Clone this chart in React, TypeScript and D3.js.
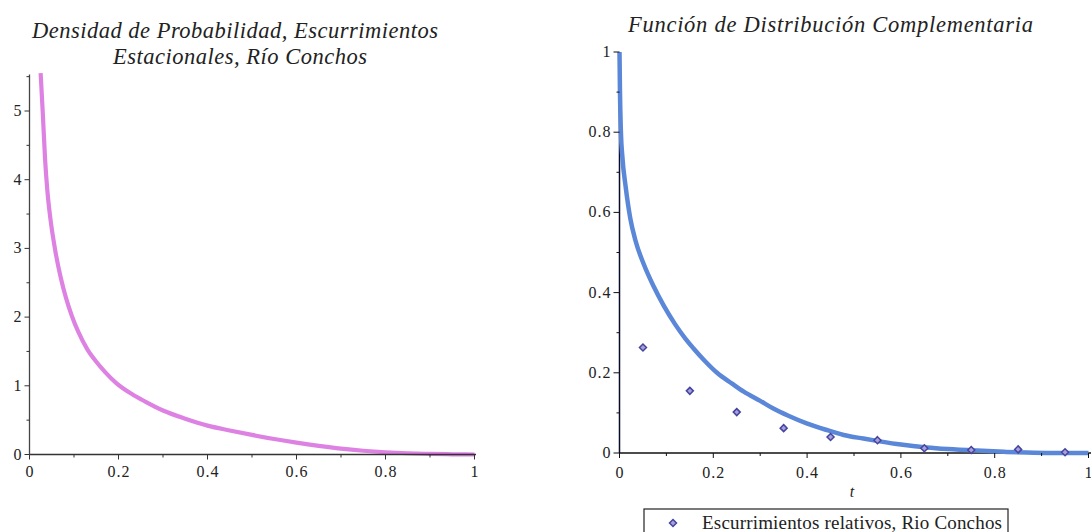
import React from "react";
import * as d3 from "d3";

// Left: probability density
const densityT = [0.025, 0.03, 0.035, 0.04, 0.047, 0.057, 0.07, 0.082, 0.095, 0.11, 0.13, 0.15, 0.17, 0.195, 0.23, 0.26, 0.3, 0.35, 0.4, 0.45, 0.5, 0.55, 0.6, 0.65, 0.7, 0.75, 0.8, 0.85, 0.9, 0.95, 1.0];
const densityV = [5.55, 4.95, 4.3, 3.85, 3.43, 3.0, 2.58, 2.28, 2.02, 1.78, 1.53, 1.35, 1.2, 1.04, 0.88, 0.77, 0.64, 0.52, 0.42, 0.35, 0.285, 0.225, 0.172, 0.125, 0.085, 0.055, 0.033, 0.018, 0.009, 0.003, 0];

// Right: complementary distribution function
const cdfT = [0, 0.001, 0.003, 0.006, 0.013, 0.023, 0.034, 0.052, 0.073, 0.094, 0.118, 0.14, 0.157, 0.18, 0.208, 0.24, 0.265, 0.3, 0.328, 0.36, 0.399, 0.44, 0.478, 0.52, 0.555, 0.6, 0.655, 0.7, 0.762, 0.82, 0.868, 0.92, 1.0];
const cdfV = [1, 0.9, 0.8, 0.74, 0.665, 0.585, 0.53, 0.47, 0.415, 0.368, 0.322, 0.286, 0.262, 0.232, 0.2, 0.173, 0.153, 0.13, 0.111, 0.093, 0.074, 0.058, 0.045, 0.036, 0.029, 0.021, 0.014, 0.01, 0.006, 0.003, 0.001, 0, 0];

// Observed relative runoff points
const obsT = [0.05, 0.15, 0.25, 0.35, 0.45, 0.55, 0.65, 0.75, 0.85, 0.95];
const obsV = [0.263, 0.155, 0.102, 0.062, 0.04, 0.032, 0.012, 0.0075, 0.009, 0.002];

const leftYTicks = [0, 1, 2, 3, 4, 5];
const leftYMinor = [0.5, 1.5, 2.5, 3.5, 4.5, 5.5];
const xTicks = [0, 0.2, 0.4, 0.6, 0.8, 1];
const xMinor = [0.1, 0.3, 0.5, 0.7, 0.9];
const rightYTicks = [0, 0.2, 0.4, 0.6, 0.8, 1];
const rightYMinor = [0.1, 0.3, 0.5, 0.7, 0.9];

const leftTitle1 = "Densidad de Probabilidad, Escurrimientos";
const leftTitle2 = "Estacionales, Río Conchos";
const rightTitle = "Función de Distribución Complementaria";
const xLabel = "t";
const legendLabel = "Escurrimientos relativos, Rio Conchos";

const FONT = "'Liberation Serif', 'Times New Roman', serif";

export default function App() {
  const lx = d3.scaleLinear().domain([0, 1]).range([29.5, 474.5]);
  const ly = d3.scaleLinear().domain([0, 5]).range([454.5, 111]);
  const rx = d3.scaleLinear().domain([0, 1]).range([619.5, 1088.5]);
  const ry = d3.scaleLinear().domain([0, 1]).range([453, 52]);

  const leftLine = d3
    .line<number>()
    .x((_, i) => lx(densityT[i]))
    .y((d) => ly(d))
    .curve(d3.curveMonotoneX);
  const rightLine = d3
    .line<number>()
    .x((_, i) => rx(cdfT[i]))
    .y((d) => ry(d))
    .curve(d3.curveMonotoneX);

  const tickFont = { fontFamily: FONT, fontSize: 16, fill: "#222" } as const;
  const fmt = (v: number) => String(v);

  return (
    <svg
      width={1091}
      height={532}
      style={{ position: "absolute", left: 0, top: 0, background: "#fff" }}
    >
      <rect x={0} y={0} width={1091} height={532} fill="#fff" />
      {/* Titles */}
      <text x={32} y={38} fontFamily={FONT} fontStyle="italic" fontSize={22.5} fill="#222" textLength={406} lengthAdjust="spacing">
        {leftTitle1}
      </text>
      <text x={113} y={64} fontFamily={FONT} fontStyle="italic" fontSize={22.5} fill="#222" textLength={254} lengthAdjust="spacing">
        {leftTitle2}
      </text>
      <text x={628} y={32} fontFamily={FONT} fontStyle="italic" fontSize={22.5} fill="#222" textLength={405} lengthAdjust="spacing">
        {rightTitle}
      </text>

      {/* Left chart */}
      <g>
        <path d={leftLine(densityV) || ""} fill="none" stroke="#dd82e2" strokeWidth={4.2} />
        <line x1={lx(0)} x2={lx(1) + 1.5} y1={ly(0)} y2={ly(0)} stroke="#333" strokeWidth={1.3} />
        <line x1={lx(0)} x2={lx(0)} y1={ly(0)} y2={ly(5.53)} stroke="#444" strokeWidth={1.3} />
        {leftYTicks.map((v) => (
          <g key={"ly" + v}>
            <line x1={lx(0) - 5} x2={lx(0)} y1={ly(v)} y2={ly(v)} stroke="#333" strokeWidth={1} />
            <text x={lx(0) - 8} y={ly(v) + 5} textAnchor="end" {...tickFont}>
              {fmt(v)}
            </text>
          </g>
        ))}
        {leftYMinor.map((v) => (
          <line key={"lym" + v} x1={lx(0) - 3} x2={lx(0)} y1={ly(v)} y2={ly(v)} stroke="#333" strokeWidth={1} />
        ))}
        {xTicks.map((v) => (
          <g key={"lx" + v}>
            <line x1={lx(v)} x2={lx(v)} y1={ly(0)} y2={ly(0) + 5} stroke="#333" strokeWidth={1} />
            <text x={lx(v)} y={477} textAnchor="middle" {...tickFont} textLength={v === 0 || v === 1 ? undefined : 22} lengthAdjust="spacing">
              {fmt(v)}
            </text>
          </g>
        ))}
        {xMinor.map((v) => (
          <line key={"lxm" + v} x1={lx(v)} x2={lx(v)} y1={ly(0)} y2={ly(0) + 3} stroke="#333" strokeWidth={1} />
        ))}
      </g>

      {/* Right chart */}
      <g>
        <line x1={rx(0)} x2={1091} y1={ry(0)} y2={ry(0)} stroke="#111" strokeWidth={1.3} />
        <line x1={rx(0)} x2={rx(0)} y1={ry(0)} y2={ry(1)} stroke="#0a0a2a" strokeWidth={1.5} />
        <path d={rightLine(cdfV) || ""} fill="none" stroke="#5b87d8" strokeWidth={4.5} />
        {rightYTicks.map((v) => (
          <g key={"ry" + v}>
            <line x1={rx(0) - 6} x2={rx(0)} y1={ry(v)} y2={ry(v)} stroke="#111" strokeWidth={1} />
            <text x={rx(0) - 9} y={ry(v) + 5} textAnchor="end" {...tickFont} textLength={v === 0 || v === 1 ? undefined : 22} lengthAdjust="spacing">
              {fmt(v)}
            </text>
          </g>
        ))}
        {rightYMinor.map((v) => (
          <line key={"rym" + v} x1={rx(0) - 3} x2={rx(0)} y1={ry(v)} y2={ry(v)} stroke="#111" strokeWidth={1} />
        ))}
        {xTicks.map((v) => (
          <g key={"rx" + v}>
            <line x1={rx(v)} x2={rx(v)} y1={ry(0)} y2={ry(0) + 5} stroke="#111" strokeWidth={1} />
            <text x={rx(v)} y={478} textAnchor="middle" {...tickFont} textLength={v === 0 || v === 1 ? undefined : 22} lengthAdjust="spacing">
              {fmt(v)}
            </text>
          </g>
        ))}
        {xMinor.map((v) => (
          <line key={"rxm" + v} x1={rx(v)} x2={rx(v)} y1={ry(0)} y2={ry(0) + 3} stroke="#111" strokeWidth={1} />
        ))}
        {obsT.map((t, i) => {
          const cx = rx(t);
          const cy = ry(obsV[i]);
          return (
            <path
              key={"o" + i}
              d={`M${cx},${cy - 3.5}L${cx + 3.5},${cy}L${cx},${cy + 3.5}L${cx - 3.5},${cy}Z`}
              fill="#a79fdc"
              stroke="#45459e"
              strokeWidth={1.5}
            />
          );
        })}
        <text x={852} y={497} textAnchor="middle" fontFamily={FONT} fontStyle="italic" fontSize={16} fill="#222">
          {xLabel}
        </text>
        {/* Legend */}
        <rect x={644} y={509} width={364} height={30} fill="#fff" stroke="#222" strokeWidth={1.2} />
        <path d="M673,519.5L676.5,523L673,526.5L669.5,523Z" fill="#a79fdc" stroke="#45459e" strokeWidth={1.5} />
        <text x={702} y={529} fontFamily={FONT} fontSize={19} fill="#222" textLength={300} lengthAdjust="spacing">
          {legendLabel}
        </text>
      </g>
    </svg>
  );
}
